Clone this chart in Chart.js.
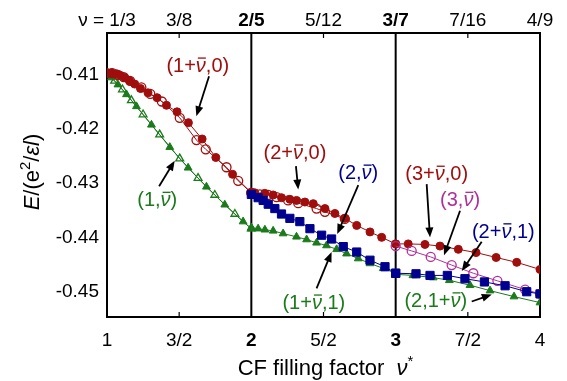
<!DOCTYPE html>
<html>
<head>
<meta charset="utf-8">
<script src="https://cdn.jsdelivr.net/npm/chart.js@4"></script>
<style>
html, body { margin: 0; padding: 0; background: #fff; }
</style>
</head>
<body>
<canvas id="chart" width="567" height="381"></canvas>
<script>
const FONT = '"Liberation Sans", Arial, sans-serif';
const RED = '#a00d0d';
const GREEN = '#1b7a1b';
const BLUE = '#00008f';
const MAGENTA = '#b0309a';

// tick values and labels
const xTicks = [1, 1.5, 2, 2.5, 3, 3.5, 4];
const xLabels = ['1', '3/2', '2', '5/2', '3', '7/2', '4'];
const topLabels = ['ν = 1/3', '3/8', '2/5', '5/12', '3/7', '7/16', '4/9'];
const boldTicks = [2, 3];
const yTicks = [-0.41, -0.42, -0.43, -0.44, -0.45];
const vLines = [2, 3];
const minorTicks = [1.5, 2.5, 3.5];

// (1+v,0) filled / open, nu* 1..2
const r1x = [1.0, 1.03, 1.065, 1.093, 1.123, 1.157, 1.192, 1.232, 1.284, 1.347, 1.412, 1.485, 1.564, 1.659, 1.754, 1.870, 2.0];
const r1y = [-0.4098, -0.4097, -0.4099, -0.4102, -0.4106, -0.4112, -0.4118, -0.4126, -0.4134, -0.4143, -0.4157, -0.4169, -0.4189, -0.4219, -0.4253, -0.4284, -0.4318];
const r1ox = [1.0, 1.037, 1.076, 1.116, 1.16, 1.238, 1.30, 1.38, 1.504, 1.62, 1.684, 1.828, 1.909, 2.0];
const r1oy = [-0.4098, -0.4098, -0.4101, -0.4105, -0.4112, -0.4124, -0.4136, -0.4150, -0.4180, -0.4221, -0.4238, -0.4271, -0.4296, -0.4318];

// (1,v) filled / open triangles
const g1x = [1.0, 1.03, 1.076, 1.135, 1.204, 1.308, 1.435, 1.562, 1.689, 1.816, 1.943, 2.0];
const g1y = [-0.4098, -0.4106, -0.4119, -0.4137, -0.4159, -0.4193, -0.4234, -0.4272, -0.4307, -0.4340, -0.4371, -0.4384];
const g1ox = [1.0, 1.053, 1.107, 1.169, 1.25, 1.365, 1.504, 1.631, 1.747, 1.886, 2.0];
const g1oy = [-0.4098, -0.4112, -0.4128, -0.4148, -0.4174, -0.4211, -0.4255, -0.4291, -0.4322, -0.4357, -0.4384];

// nu* 2..3
const r2x = [2.0, 2.024, 2.093, 2.151, 2.209, 2.267, 2.313, 2.371, 2.429, 2.510, 2.579, 2.648, 2.730, 2.822, 2.903, 3.0];
const r2y = [-0.4318, -0.4318, -0.4319, -0.4322, -0.4327, -0.4330, -0.4332, -0.4335, -0.4338, -0.4347, -0.4356, -0.4365, -0.4378, -0.4390, -0.4400, -0.4412];
const r2ox = [2.0, 2.059, 2.117, 2.175, 2.255, 2.325, 2.452, 2.51, 2.648];
const r2oy = [-0.4318, -0.4321, -0.4322, -0.4326, -0.4332, -0.4337, -0.4347, -0.4353, -0.4366];
const b2x = [2.0, 2.047, 2.082, 2.117, 2.163, 2.209, 2.267, 2.336, 2.406, 2.487, 2.556, 2.637, 2.730, 2.822, 2.926, 3.0];
const b2y = [-0.4321, -0.4327, -0.4332, -0.4339, -0.4347, -0.4357, -0.4365, -0.4371, -0.4384, -0.4396, -0.4403, -0.4417, -0.4427, -0.4442, -0.4454, -0.4466];
const g2x = [2.0, 2.047, 2.094, 2.151, 2.22, 2.313, 2.383, 2.452, 2.521, 2.591, 2.660, 2.741, 2.822, 2.914, 3.0];
const g2y = [-0.4382, -0.4384, -0.4386, -0.4388, -0.4393, -0.4399, -0.4404, -0.4410, -0.4415, -0.4422, -0.4430, -0.4439, -0.4448, -0.4457, -0.4466];

// nu* 3..4
const r3x = [3.0, 3.087, 3.203, 3.307, 3.434, 3.557, 3.696, 3.839, 4.0];
const r3y = [-0.4412, -0.4412, -0.4413, -0.4416, -0.4422, -0.4428, -0.4437, -0.4446, -0.4459];
const m3x = [3.0, 3.111, 3.243, 3.388, 3.538, 3.705, 3.897, 4.0];
const m3y = [-0.4416, -0.4425, -0.4436, -0.4451, -0.4466, -0.4480, -0.4496, -0.4504];
const b3x = [3.0, 3.141, 3.238, 3.358, 3.48, 3.615, 3.758, 3.908, 4.0];
const b3y = [-0.4466, -0.4467, -0.4470, -0.4470, -0.4476, -0.4482, -0.4489, -0.4500, -0.4504];
const g3x = [3.0, 3.12, 3.26, 3.372, 3.515, 3.654, 3.82, 4.0];
const g3y = [-0.4468, -0.4470, -0.4474, -0.4479, -0.4488, -0.4498, -0.4509, -0.4520];

// labels with arrows, in data coordinates
const notes = [
    {parts: [{t: '(1+'}, {t: 'ν', it: 1, bar: 1}, {t: ',0)'}], color: RED, at: [1.629, -0.4083], from: [1.707, -0.41037], to: [1.619, -0.4177]},
    {parts: [{t: '(1,'}, {t: 'ν', it: 1, bar: 1}, {t: ')'}], color: GREEN, at: [1.348, -0.4330], from: [1.361, -0.4306], to: [1.469, -0.4259]},
    {parts: [{t: '(2+'}, {t: 'ν', it: 1, bar: 1}, {t: ',0)'}], color: RED, at: [2.302, -0.4243], from: [2.309, -0.4269], to: [2.325, -0.4312]},
    {parts: [{t: '(2,'}, {t: 'ν', it: 1, bar: 1}, {t: ')'}], color: BLUE, at: [2.741, -0.4280], from: [2.741, -0.4304], to: [2.595, -0.4394]},
    {parts: [{t: '(3+'}, {t: 'ν', it: 1, bar: 1}, {t: ',0)'}], color: RED, at: [3.284, -0.4282], from: [3.215, -0.4302], to: [3.238, -0.4400]},
    {parts: [{t: '(3,'}, {t: 'ν', it: 1, bar: 1}, {t: ')'}], color: MAGENTA, at: [3.446, -0.4330], from: [3.446, -0.4351], to: [3.335, -0.4433]},
    {parts: [{t: '(2+'}, {t: 'ν', it: 1, bar: 1}, {t: ',1)'}], color: BLUE, at: [3.746, -0.4388], from: [3.596, -0.4408], to: [3.458, -0.4462]},
    {parts: [{t: '(1+'}, {t: 'ν', it: 1, bar: 1}, {t: ',1)'}], color: GREEN, at: [2.433, -0.4519], from: [2.452, -0.4494], to: [2.556, -0.4427]},
    {parts: [{t: '(2,1+'}, {t: 'ν', it: 1, bar: 1}, {t: ')'}], color: GREEN, at: [3.278, -0.4515], from: [3.527, -0.4518], to: [3.666, -0.4505]}
];

function pts(xs, ys) {
    return xs.map((x, i) => ({x: x, y: ys[i]}));
}

function series(xs, ys, color, style, radius, open, order) {
    return {
        data: pts(xs, ys),
        borderColor: color,
        borderWidth: 1,
        backgroundColor: open ? 'rgba(0,0,0,0)' : color,
        pointStyle: style,
        pointRadius: radius,
        pointBorderColor: color,
        pointBackgroundColor: open ? 'rgba(0,0,0,0)' : color,
        pointBorderWidth: open ? 1.3 : 1,
        showLine: true,
        tension: 0,
        order: order
    };
}

function fontOf(p, size) {
    let s = p.sup ? size * 0.68 : size;
    return (p.it ? 'italic ' : '') + s + 'px ' + FONT;
}

function drawRich(ctx, parts, cx, base, size, color) {
    ctx.save();
    ctx.fillStyle = color;
    ctx.strokeStyle = color;
    ctx.textBaseline = 'alphabetic';
    ctx.textAlign = 'left';
    let widths = parts.map(p => { ctx.font = fontOf(p, size); return ctx.measureText(p.t).width; });
    let total = widths.reduce((a, b) => a + b, 0);
    let x = cx - total / 2;
    parts.forEach((p, i) => {
        ctx.font = fontOf(p, size);
        let y = p.sup ? base - size * 0.42 : base;
        ctx.fillText(p.t, x, y);
        if (p.bar) {
            ctx.lineWidth = 1.3;
            ctx.beginPath();
            ctx.moveTo(x + 2, base - size * 0.7);
            ctx.lineTo(x + widths[i], base - size * 0.7);
            ctx.stroke();
        }
        x += widths[i];
    });
    ctx.restore();
}

function drawArrow(ctx, x1, y1, x2, y2) {
    let a = Math.atan2(y2 - y1, x2 - x1);
    let hl = 10, hw = 4;
    ctx.save();
    ctx.strokeStyle = '#000';
    ctx.fillStyle = '#000';
    ctx.lineWidth = 1.8;
    ctx.beginPath();
    ctx.moveTo(x1, y1);
    ctx.lineTo(x2 - Math.cos(a) * hl * 0.8, y2 - Math.sin(a) * hl * 0.8);
    ctx.stroke();
    ctx.beginPath();
    ctx.moveTo(x2, y2);
    ctx.lineTo(x2 - Math.cos(a) * hl - Math.sin(a) * hw, y2 - Math.sin(a) * hl + Math.cos(a) * hw);
    ctx.lineTo(x2 - Math.cos(a) * hl + Math.sin(a) * hw, y2 - Math.sin(a) * hl - Math.cos(a) * hw);
    ctx.closePath();
    ctx.fill();
    ctx.restore();
}

const framePlugin = {
    id: 'frame',
    beforeDatasetsDraw(chart) {
        let ctx = chart.ctx, a = chart.chartArea, sx = chart.scales.x;
        ctx.save();
        ctx.strokeStyle = '#000';
        ctx.lineWidth = 2;
        vLines.forEach(v => {
            let px = sx.getPixelForValue(v);
            ctx.beginPath();
            ctx.moveTo(px, a.top);
            ctx.lineTo(px, a.bottom);
            ctx.stroke();
        });
        ctx.lineWidth = 1.2;
        minorTicks.forEach(v => {
            let px = sx.getPixelForValue(v);
            ctx.beginPath();
            ctx.moveTo(px, a.bottom);
            ctx.lineTo(px, a.bottom - 5);
            ctx.moveTo(px, a.top);
            ctx.lineTo(px, a.top + 5);
            ctx.stroke();
        });
        ctx.lineWidth = 2;
        ctx.strokeRect(a.left, a.top, a.right - a.left, a.bottom - a.top);
        ctx.restore();
    },
    afterDatasetsDraw(chart) {
        let ctx = chart.ctx, sx = chart.scales.x, sy = chart.scales.y;
        notes.forEach(n => {
            drawArrow(ctx, sx.getPixelForValue(n.from[0]), sy.getPixelForValue(n.from[1]),
                sx.getPixelForValue(n.to[0]), sy.getPixelForValue(n.to[1]));
            drawRich(ctx, n.parts, sx.getPixelForValue(n.at[0]), sy.getPixelForValue(n.at[1]) + 7, 20, n.color);
        });
    },
    afterDraw(chart) {
        let ctx = chart.ctx, a = chart.chartArea;
        drawRich(ctx, [{t: 'CF filling factor  '}, {t: 'ν', it: 1}, {t: '*', sup: 1}], (a.left + a.right) / 2 + 2, 375, 22, '#000');
        ctx.save();
        ctx.translate(39, (a.top + a.bottom) / 2 - 3);
        ctx.rotate(-Math.PI / 2);
        drawRich(ctx, [{t: 'E', it: 1}, {t: '/(e'}, {t: '2', sup: 1}, {t: '/'}, {t: 'ε', it: 1}, {t: 'l', it: 1}, {t: ')'}], 0, 0, 22, '#000');
        ctx.restore();
    }
};

const tickFont = ctx => ({
    family: FONT,
    size: 19,
    weight: (ctx.tick && boldTicks.includes(ctx.tick.value)) ? 'bold' : 'normal'
});

new Chart(document.getElementById('chart'), {
    type: 'line',
    data: {
        datasets: [
            series(g1x, g1y, GREEN, 'triangle', 4.5, false, 9),
            series(g1ox, g1oy, GREEN, 'triangle', 4.5, true, 9),
            series(g2x, g2y, GREEN, 'triangle', 4.5, false, 9),
            series(g3x, g3y, GREEN, 'triangle', 4.5, false, 9),
            series(r1x, r1y, RED, 'circle', 4, false, 5),
            series(r1ox, r1oy, RED, 'circle', 4.5, true, 5),
            series(r2x, r2y, RED, 'circle', 4, false, 5),
            series(r2ox, r2oy, RED, 'circle', 4.5, true, 5),
            series(r3x, r3y, RED, 'circle', 4, false, 5),
            series(m3x, m3y, MAGENTA, 'circle', 4.5, true, 3),
            series(b2x, b2y, BLUE, 'rect', 5.8, false, 1),
            series(b3x, b3y, BLUE, 'rect', 5.8, false, 1)
        ]
    },
    options: {
        responsive: false,
        devicePixelRatio: 1,
        animation: false,
        layout: {padding: {left: 0, right: 27, top: 0, bottom: 0}},
        plugins: {legend: {display: false}, tooltip: {enabled: false}},
        scales: {
            x: {
                type: 'linear',
                position: 'bottom',
                min: 1,
                max: 4,
                grid: {display: false, drawTicks: false},
                border: {display: false},
                afterBuildTicks: s => { s.ticks = xTicks.map(v => ({value: v})); },
                afterFit: s => { s.height = 64; },
                ticks: {
                    autoSkip: false,
                    maxRotation: 0,
                    padding: 12,
                    color: '#000',
                    font: tickFont,
                    callback: (v, i) => xLabels[i]
                }
            },
            x2: {
                type: 'linear',
                position: 'top',
                min: 1,
                max: 4,
                grid: {display: false, drawTicks: false},
                border: {display: false},
                afterBuildTicks: s => { s.ticks = xTicks.map(v => ({value: v})); },
                afterFit: s => { s.height = 33; },
                ticks: {
                    autoSkip: false,
                    maxRotation: 0,
                    padding: 1,
                    color: '#000',
                    font: tickFont,
                    callback: (v, i) => topLabels[i]
                }
            },
            y: {
                type: 'linear',
                min: -0.45465,
                max: -0.4024,
                grid: {display: false, drawTicks: false},
                border: {display: false},
                afterBuildTicks: s => { s.ticks = yTicks.map(v => ({value: v})); },
                afterFit: s => { s.width = 107; },
                ticks: {
                    padding: 8,
                    color: '#000',
                    font: {family: FONT, size: 19},
                    callback: v => v.toFixed(2)
                }
            }
        }
    },
    plugins: [framePlugin]
});
</script>
</body>
</html>
